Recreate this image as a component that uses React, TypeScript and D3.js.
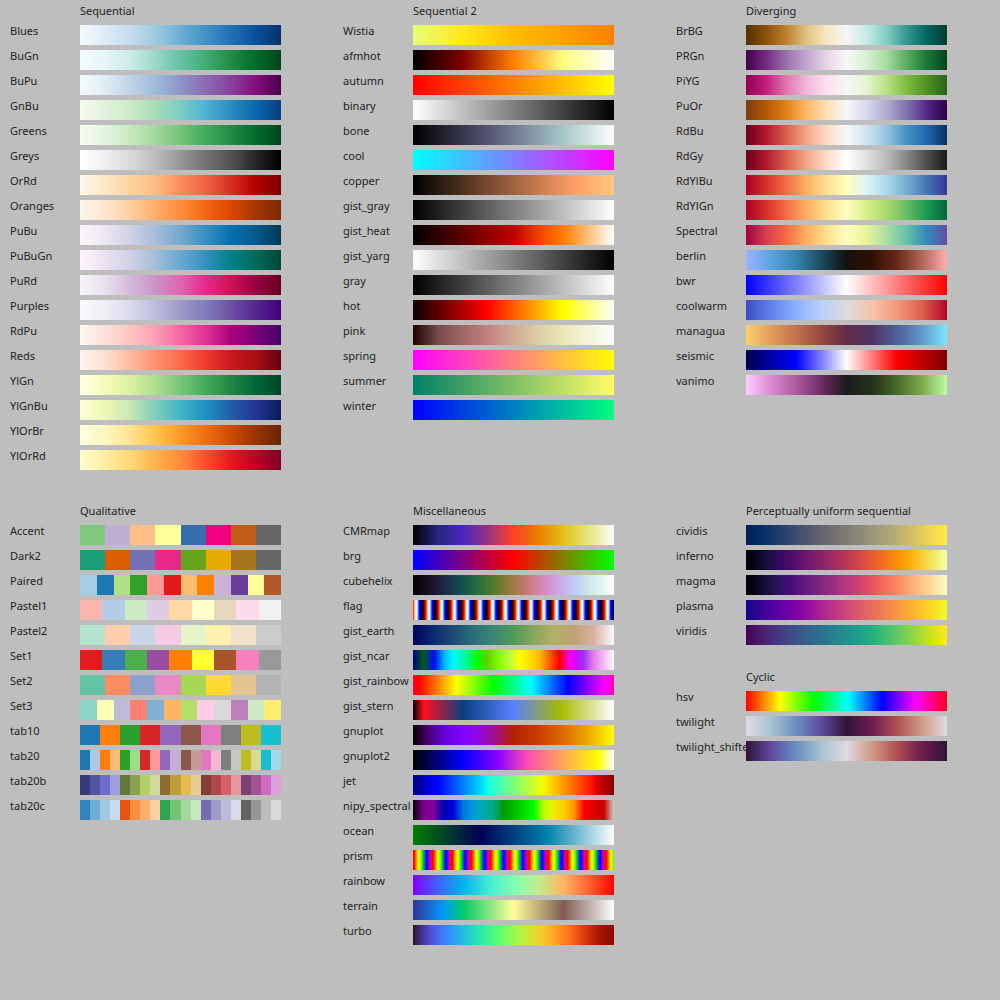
import React from "react";
import * as d3 from "d3";

// colormap names, grouped as in the reference
const sequentialNames = ["Blues", "BuGn", "BuPu", "GnBu", "Greens", "Greys", "OrRd", "Oranges", "PuBu", "PuBuGn", "PuRd", "Purples", "RdPu", "Reds", "YlGn", "YlGnBu", "YlOrBr", "YlOrRd"];
const sequential2Names = ["Wistia", "afmhot", "autumn", "binary", "bone", "cool", "copper", "gist_gray", "gist_heat", "gist_yarg", "gray", "hot", "pink", "spring", "summer", "winter"];
const divergingNames = ["BrBG", "PRGn", "PiYG", "PuOr", "RdBu", "RdGy", "RdYlBu", "RdYlGn", "Spectral", "berlin", "bwr", "coolwarm", "managua", "seismic", "vanimo"];
const qualitativeNames = ["Accent", "Dark2", "Paired", "Pastel1", "Pastel2", "Set1", "Set2", "Set3", "tab10", "tab20", "tab20b", "tab20c"];
const miscNames = ["CMRmap", "brg", "cubehelix", "flag", "gist_earth", "gist_ncar", "gist_rainbow", "gist_stern", "gnuplot", "gnuplot2", "jet", "nipy_spectral", "ocean", "prism", "rainbow", "terrain", "turbo"];
const uniformNames = ["cividis", "inferno", "magma", "plasma", "viridis"];
const cyclicNames = ["hsv", "twilight", "twilight_shifted"];

// brewer schemes that matplotlib runs the other way round from d3
const reversedBrewer = ["PuOr"];

type Stop = string | [number, string];

// colour stops (plain list = evenly spaced, tuple = [offset, colour])
const wistia: Stop[] = ["#e4ff7a", "#ffe81a", "#ffbd00", "#ffa000", "#fc7f00"];
const afmhot: Stop[] = ["#000000", "#800000", "#ff8000", "#ffff80", "#ffffff"];
const autumn: Stop[] = ["#ff0000", "#ffff00"];
const binary: Stop[] = ["#ffffff", "#000000"];
const bone: Stop[] = [[0, "#000000"], [0.365, "#515171"], [0.746, "#a6c6c6"], [1, "#ffffff"]];
const cool: Stop[] = ["#00ffff", "#ff00ff"];
const copper: Stop[] = [[0, "#000000"], [0.8095, "#ffa167"], [1, "#ffc77f"]];
const gistGray: Stop[] = ["#000000", "#ffffff"];
const gistHeat: Stop[] = [[0, "#000000"], [0.5, "#bf0000"], [0.6667, "#ff5500"], [0.75, "#ff8000"], [1, "#ffffff"]];
const gistYarg: Stop[] = ["#ffffff", "#000000"];
const gray: Stop[] = ["#000000", "#ffffff"];
const hot: Stop[] = [[0, "#0b0000"], [0.365, "#ff0000"], [0.746, "#ffff00"], [1, "#ffffff"]];
const pink: Stop[] = [[0, "#1e0000"], [0.125, "#744a4a"], [0.25, "#a16868"], [0.365, "#c27e7e"], [0.5, "#d0ab93"], [0.625, "#ddcda5"], [0.746, "#e8e8b4"], [0.875, "#f4f4dd"], [1, "#ffffff"]];
const spring: Stop[] = ["#ff00ff", "#ffff00"];
const summer: Stop[] = ["#008066", "#ffff66"];
const winter: Stop[] = ["#0000ff", "#00ff80"];

const berlin: Stop[] = ["#9eb0ff", "#5ea3e0", "#3585b0", "#1c4a5e", "#12110f", "#300f03", "#672818", "#b06658", "#ffadad"];
const bwr: Stop[] = ["#0000ff", "#ffffff", "#ff0000"];
const coolwarm: Stop[] = ["#3b4cc0", "#6282ea", "#8db0fe", "#b9d0f9", "#dddcdc", "#f5c4ac", "#f49a7b", "#de604d", "#b40426"];
const managua: Stop[] = ["#ffcf68", "#e19d5b", "#c1734c", "#95483c", "#652a46", "#4f3364", "#4f5d99", "#6396cb", "#7ae8ff"];
const seismic: Stop[] = ["#00004d", "#0000ff", "#ffffff", "#ff0000", "#800000"];
const vanimo: Stop[] = ["#ffcdfd", "#d98ad0", "#ac5a9f", "#6c2c64", "#1b1a1a", "#23311b", "#45692b", "#7daa4c", "#befda5"];

const cmrmap: Stop[] = ["#000000", "#262680", "#4d26bf", "#993380", "#ff4026", "#e68000", "#e6bf1a", "#e6e680", "#ffffff"];
const brg: Stop[] = ["#0000ff", "#ff0000", "#00ff00"];
const gistEarth: Stop[] = ["#00005a", "#0c2a70", "#1c4a78", "#2a6e7a", "#3b8673", "#4f9a55", "#86a65e", "#b2b166", "#bea272", "#d8b3a4", "#fdfbfb"];
const gistNcar: Stop[] = [[0, "#000080"], [0.03, "#00334a"], [0.05, "#005f10"], [0.075, "#003a80"], [0.105, "#0008f8"], [0.157, "#00b8ff"], [0.2, "#00f8ff"], [0.26, "#00fa9d"], [0.32, "#00ff00"], [0.37, "#63ce00"], [0.43, "#86ff00"], [0.48, "#bbff3c"], [0.53, "#ffff00"], [0.63, "#ffba00"], [0.69, "#ff470c"], [0.73, "#ff0000"], [0.78, "#f800f0"], [0.8, "#e400ff"], [0.845, "#9a2cf8"], [0.9, "#e67fe8"], [1, "#fff8fe"]];
const gistRainbow: Stop[] = [[0, "#ff0029"], [0.03, "#ff0000"], [0.215, "#ffff00"], [0.4, "#00ff00"], [0.586, "#00ffff"], [0.77, "#0000ff"], [0.954, "#ff00ff"], [1, "#ff00bf"]];
const gistStern: Stop[] = [[0, "#000000"], [0.0547, "#ff0e1c"], [0.25, "#074080"], [0.5, "#5980ff"], [0.735, "#a7bb00"], [1, "#ffffff"]];
const gnuplot: Stop[] = [[0, "#000000"], [0.0625, "#400062"], [0.125, "#5a00b4"], [0.1875, "#6e02ec"], [0.25, "#8004ff"], [0.3125, "#8e08ec"], [0.375, "#9c0db4"], [0.4375, "#a81562"], [0.5, "#b42000"], [0.625, "#c93e00"], [0.75, "#dd6c00"], [0.875, "#eeab00"], [1, "#ffff00"]];
const gnuplot2: Stop[] = [[0, "#000000"], [0.25, "#0000ff"], [0.42, "#8700ff"], [0.57, "#ff4db3"], [0.92, "#ffff00"], [1, "#ffffff"]];
const jet: Stop[] = [[0, "#000080"], [0.11, "#0000ff"], [0.125, "#0000ff"], [0.34, "#00dbff"], [0.35, "#00e6f7"], [0.375, "#14ffe2"], [0.64, "#eeff08"], [0.65, "#f7f500"], [0.66, "#ffec00"], [0.89, "#ff1300"], [0.91, "#e80000"], [1, "#800000"]];
const nipySpectral: Stop[] = ["#000000", "#770088", "#880099", "#0000aa", "#0000dd", "#0077dd", "#0099dd", "#00aaaa", "#00aa88", "#009900", "#00bb00", "#00dd00", "#00ff00", "#bbff00", "#eeee00", "#ffcc00", "#ff9900", "#ff0000", "#dd0000", "#cc0000", "#cccccc"];
const ocean: Stop[] = ["#008000", "#000055", "#0080aa", "#ffffff"];
const rainbow: Stop[] = ["#8000ff", "#4062fa", "#00b4ec", "#40ecd4", "#80ffb4", "#c0ec8e", "#ffb462", "#ff6232", "#ff0000"];
const terrain: Stop[] = [[0, "#333399"], [0.15, "#0099ff"], [0.25, "#00cc66"], [0.5, "#ffff99"], [0.75, "#805c54"], [1, "#ffffff"]];

const hsv: Stop[] = [[0, "#ff0000"], [0.1587, "#fff000"], [0.1746, "#f7ff00"], [0.3333, "#08ff00"], [0.3492, "#00ff10"], [0.5079, "#00ffff"], [0.6667, "#0010ff"], [0.6825, "#0800ff"], [0.8413, "#f700ff"], [0.8571, "#ff00f0"], [1, "#ff0018"]];
const twilight: Stop[] = ["#e2d9e2", "#a6c3cf", "#6b8ec0", "#5f4aa0", "#2f1436", "#6d1d4e", "#ae4f51", "#cf9c86", "#e2d9e2"];
const twilightShifted: Stop[] = ["#2f1436", "#5f4aa0", "#6b8ec0", "#a6c3cf", "#e2d9e2", "#cf9c86", "#ae4f51", "#6d1d4e", "#2f1436"];

const tab20 = ["#1f77b4", "#aec7e8", "#ff7f0e", "#ffbb78", "#2ca02c", "#98df8a", "#d62728", "#ff9896", "#9467bd", "#c5b0d5", "#8c564b", "#c49c94", "#e377c2", "#f7b6d2", "#7f7f7f", "#c7c7c7", "#bcbd22", "#dbdb8d", "#17becf", "#9edae5"];
const tab20b = ["#393b79", "#5254a3", "#6b6ecf", "#9c9ede", "#637939", "#8ca252", "#b5cf6b", "#cedb9c", "#8c6d31", "#bd9e39", "#e7ba52", "#e7cb94", "#843c39", "#ad494a", "#d6616b", "#e7969c", "#7b4173", "#a55194", "#ce6dbd", "#de9ed6"];
const tab20c = ["#3182bd", "#6baed6", "#9ecae1", "#c6dbef", "#e6550d", "#fd8d3c", "#fdae6b", "#fdd0a2", "#31a354", "#74c476", "#a1d99b", "#c7e9c0", "#756bb1", "#9e9ac8", "#bcbddc", "#dadaeb", "#636363", "#969696", "#bdbdbd", "#d9d9d9"];

const stopTable: Record<string, Stop[]> = {
  Wistia: wistia, afmhot, autumn, binary, bone, cool, copper, gist_gray: gistGray, gist_heat: gistHeat,
  gist_yarg: gistYarg, gray, hot, pink, spring, summer, winter,
  berlin, bwr, coolwarm, managua, seismic, vanimo,
  CMRmap: cmrmap, brg, gist_earth: gistEarth, gist_ncar: gistNcar, gist_rainbow: gistRainbow,
  gist_stern: gistStern, gnuplot, gnuplot2, jet, nipy_spectral: nipySpectral, ocean, rainbow, terrain,
  hsv, twilight, twilight_shifted: twilightShifted,
};

const d3Interp: Record<string, (t: number) => string> = {
  cividis: d3.interpolateCividis,
  inferno: d3.interpolateInferno,
  magma: d3.interpolateMagma,
  plasma: d3.interpolatePlasma,
  viridis: d3.interpolateViridis,
  turbo: d3.interpolateTurbo,
  cubehelix: d3.interpolateCubehelixDefault,
};

const qualitative: Record<string, readonly string[]> = {
  Accent: d3.schemeAccent, Dark2: d3.schemeDark2, Paired: d3.schemePaired,
  Pastel1: d3.schemePastel1, Pastel2: d3.schemePastel2, Set1: d3.schemeSet1,
  Set2: d3.schemeSet2, Set3: d3.schemeSet3, tab10: d3.schemeCategory10,
  tab20, tab20b, tab20c,
};

// matplotlib's oscillating maps
const clip = (v: number) => Math.max(0, Math.min(1, v));
const waveMaps: Record<string, (x: number) => string> = {
  flag: (x) =>
    d3.rgb(
      255 * clip(0.75 * Math.sin((x * 31.5 + 0.25) * Math.PI) + 0.5),
      255 * clip(Math.sin(x * 31.5 * Math.PI)),
      255 * clip(0.75 * Math.sin((x * 31.5 - 0.25) * Math.PI) + 0.5)
    ).formatHex(),
  prism: (x) =>
    d3.rgb(
      255 * clip(0.75 * Math.sin((x * 20.9 + 0.25) * Math.PI) + 0.67),
      255 * clip(0.75 * Math.sin((x * 20.9 - 0.25) * Math.PI) + 0.33),
      255 * clip(-1.1 * Math.sin(x * 20.9 * Math.PI))
    ).formatHex(),
};

function gradientStops(name: string): { offset: number; color: string }[] {
  if (stopTable[name]) {
    const s = stopTable[name];
    return s.map((d, i) =>
      typeof d === "string" ? { offset: i / (s.length - 1), color: d } : { offset: d[0], color: d[1] }
    );
  }
  if (d3Interp[name]) {
    return d3.range(65).map((i) => ({ offset: i / 64, color: d3Interp[name](i / 64) }));
  }
  if (waveMaps[name]) {
    return d3.range(256).map((i) => ({ offset: i / 255, color: waveMaps[name](i / 255) }));
  }
  const scheme = (d3 as any)["scheme" + name];
  let cols: string[] = (sequentialNames.includes(name) ? scheme[9] : scheme[11]).slice();
  if (reversedBrewer.includes(name)) cols = cols.reverse();
  return cols.map((c, i) => ({ offset: i / (cols.length - 1), color: c }));
}

const BAR_W = 201;
const BAR_H = 20;
const ROW = 25;
const COL = 333;

const groups = [
  { title: "Sequential", names: sequentialNames, col: 0, top: 25 },
  { title: "Sequential 2", names: sequential2Names, col: 1, top: 25 },
  { title: "Diverging", names: divergingNames, col: 2, top: 25 },
  { title: "Qualitative", names: qualitativeNames, col: 0, top: 525 },
  { title: "Miscellaneous", names: miscNames, col: 1, top: 525 },
  { title: "Perceptually uniform sequential", names: uniformNames, col: 2, top: 525 },
  { title: "Cyclic", names: cyclicNames, col: 2, top: 691 },
];

const font = "'Noto Sans', 'Open Sans', sans-serif";

export default function App() {
  return (
    <svg
      width={1000}
      height={1000}
      style={{ position: "absolute", left: 0, top: 0, display: "block" }}
      fontFamily={font}
    >
      <rect x={0} y={0} width={1000} height={1000} fill="#bebebe" />
      <defs>
        {groups.flatMap((g) =>
          g.names
            .filter((n) => !qualitative[n])
            .map((n) => (
              <linearGradient key={n} id={"cm-" + n} x1="0" x2="1" y1="0" y2="0">
                {gradientStops(n).map((s, i) => (
                  <stop key={i} offset={s.offset} stopColor={s.color} />
                ))}
              </linearGradient>
            ))
        )}
      </defs>
      {groups.map((g) => {
        const labelX = 10 + g.col * COL;
        const barX = 80 + g.col * COL;
        const y = d3.scaleLinear().domain([0, 1]).range([g.top, g.top + ROW]);
        return (
          <g key={g.title}>
            <text x={barX} y={g.top - 10.5} fontSize={11} fill="#222">
              {g.title}
            </text>
            {g.names.map((n, i) => (
              <text key={"l" + n} x={labelX} y={y(i) + 10} fontSize={11} fill="#222">
                {n}
              </text>
            ))}
            {g.names.map((n, i) => {
              const cols = qualitative[n];
              if (cols) {
                const x = d3.scaleBand<number>().domain(d3.range(cols.length)).range([barX, barX + BAR_W]);
                return (
                  <g key={"b" + n} shapeRendering="crispEdges">
                    {cols.map((c, j) => (
                      <rect key={j} x={x(j)} y={y(i)} width={x.bandwidth() + 0.01} height={BAR_H} fill={c} />
                    ))}
                  </g>
                );
              }
              return (
                <rect key={"b" + n} x={barX} y={y(i)} width={BAR_W} height={BAR_H} fill={`url(#cm-${n})`} />
              );
            })}
          </g>
        );
      })}
    </svg>
  );
}
